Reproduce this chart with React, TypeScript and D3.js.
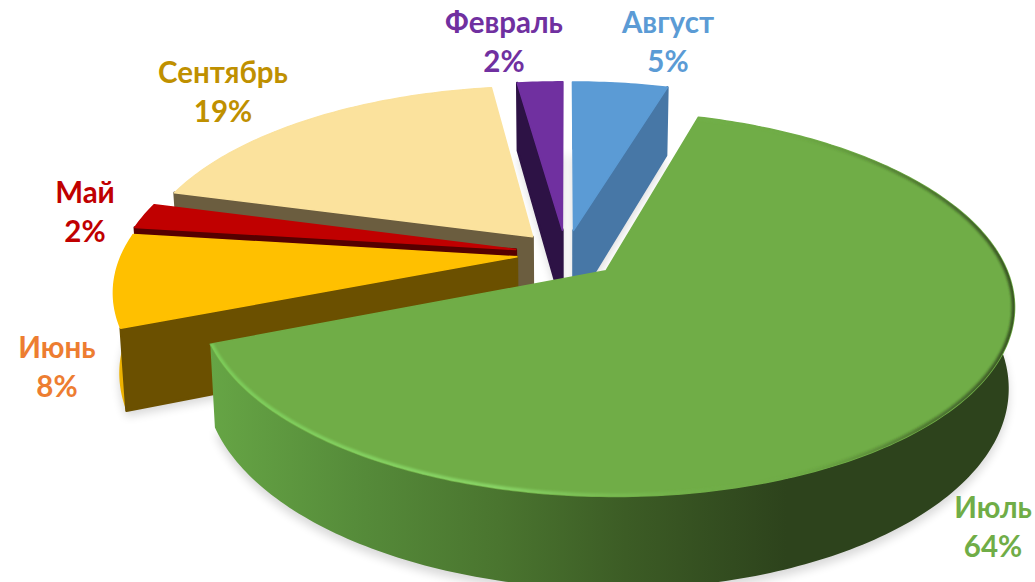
import React from "react";
import * as d3 from "d3";

const months = ["Август", "Июль", "Июнь", "Май", "Сентябрь", "Февраль"];
const shares = [4.6, 64.4, 8, 2.2, 18.6, 2.2];
const explosions = [0.135, 0.135, 0.125, 0.13, 0.13, 0.135];
const topColors = ["#5B9BD5", "#70AD47", "#FFC000", "#C00000", "#FBE29D", "#7030A0"];
const cutColors = ["#4777A6", "#3a5a25", "#6B5000", "#560000", "#6B5D3F", "#2D1245"];
const rimColors = ["#4777A6", "url(#greenRim)", "#EDB200", "#8a0000", "#8a7a50", "#2D1245"];
const labelColors = ["#5B9BD5", "#70AD47", "#ED7D31", "#C00000", "#BF9000", "#7030A0"];
const labelX = [668, 993, 57, 85, 223, 504];
const labelY = [33, 518, 358, 203, 83, 33];
const paintOrder = [4, 3, 2, 5, 0, 1];

const W = 1035, H = 582;
const CX = 566, CY = 254, RX = 395, RY = 181, K = 0.17, DEPTH = 78, SHRINK = 0.987;

type P = [number, number];
const project = (u: number, v: number, low: boolean): P => {
  const w = 1 - K * v;
  const x = (RX * u) / w, y = (RY * v) / w;
  return low ? [CX + x * SHRINK, CY + y * SHRINK + DEPTH / w] : [CX + x, CY + y];
};
const line = d3.line<P>();
const arcs = d3.pie<number>().sort(null).startAngle(0).endAngle(2 * Math.PI)(shares);

function slice(i: number) {
  const a = arcs[i];
  const mid = (a.startAngle + a.endAngle) / 2;
  const ox = explosions[i] * Math.sin(mid), oy = -explosions[i] * Math.cos(mid);
  const pt = (t: number, r: number, low: boolean) => project(ox + r * Math.sin(t), oy - r * Math.cos(t), low);
  const n = Math.max(6, Math.ceil((a.endAngle - a.startAngle) * 60));
  const ts = d3.range(n + 1).map((j) => a.startAngle + ((a.endAngle - a.startAngle) * j) / n);
  const rim = (low: boolean) => ts.map((t) => pt(t, 1, low));
  const apex = (low: boolean) => project(ox, oy, low);
  const top = line([apex(false), ...rim(false), apex(false)]) + "Z";
  const bottom = line([apex(true), ...rim(true), apex(true)]) + "Z";
  const wall = line([...rim(false), ...rim(true).reverse()]) + "Z";
  const cut = (t: number) => line([apex(false), pt(t, 1, false), pt(t, 1, true), apex(true)]) + "Z";
  const cuts: string[] = [];
  if (Math.sin(a.startAngle) < -1e-6) cuts.push(cut(a.startAngle));
  if (Math.sin(a.endAngle) > 1e-6) cuts.push(cut(a.endAngle));
  return { top, bottom, wall, cuts, edge: line(rim(false))! };
}

export default function App() {
  const parts = shares.map((_, i) => slice(i));
  return (
    <svg width={W} height={H} viewBox={`0 0 ${W} ${H}`}
      style={{ position: "absolute", left: 0, top: 0, background: "#fff" }}>
      <defs>
        <filter id="soft" x="-10%" y="-10%" width="120%" height="120%"><feGaussianBlur stdDeviation="5" /></filter>
        <filter id="fine" x="-5%" y="-5%" width="110%" height="110%"><feGaussianBlur stdDeviation="1.2" /></filter>
        <clipPath id="greenTop"><path d={parts[1].top} /></clipPath>
        <linearGradient id="greenRim" gradientUnits="userSpaceOnUse" x1="210" x2="1010" y1="0" y2="0">
          <stop offset="0" stopColor="#66a545" />
          <stop offset="0.18" stopColor="#568c3a" />
          <stop offset="0.36" stopColor="#4a752f" />
          <stop offset="0.52" stopColor="#3c5c25" />
          <stop offset="0.72" stopColor="#2d431c" />
          <stop offset="1" stopColor="#2d431c" />
        </linearGradient>
        <linearGradient id="greenEdge" gradientUnits="userSpaceOnUse" x1="210" x2="1010" y1="0" y2="0">
          <stop offset="0" stopColor="#7ccb59" />
          <stop offset="0.36" stopColor="#88d466" />
          <stop offset="0.55" stopColor="#78bb50" stopOpacity="0.6" />
          <stop offset="0.68" stopColor="#70AD47" stopOpacity="0" />
          <stop offset="0.85" stopColor="#2d431c" stopOpacity="0.35" />
          <stop offset="1" stopColor="#2d431c" stopOpacity="0.8" />
        </linearGradient>
      </defs>
      <g filter="url(#soft)" transform="translate(0,6)" opacity="0.15">
        {parts.map((p, i) => <path key={i} d={p.bottom} fill="#000" />)}
      </g>
      {paintOrder.map((i) => (
        <g key={i}>
          <path d={parts[i].wall} fill={rimColors[i]} />
          {parts[i].cuts.map((d, j) => (
            <path key={j} d={d} fill={cutColors[i]} stroke={cutColors[i]} strokeWidth={2.5} strokeLinejoin="round" />
          ))}
          <path d={parts[i].top} fill={topColors[i]} stroke={topColors[i]} strokeWidth={1.5} strokeLinejoin="round" />
          {i === 1 && (
            <g clipPath="url(#greenTop)">
              <path d={parts[i].edge} fill="none" stroke="url(#greenEdge)" strokeWidth={6} filter="url(#fine)" />
            </g>
          )}
        </g>
      ))}
      <g fontFamily="Lato, 'Noto Sans', sans-serif" fontWeight="700" fontSize={29.5} textAnchor="middle">
        {months.map((m, i) => (
          <text key={m} fill={labelColors[i]}>
            <tspan x={labelX[i]} y={labelY[i]}>{m}</tspan>
            <tspan x={labelX[i]} y={labelY[i] + 39}>{Math.round(shares[i])}%</tspan>
          </text>
        ))}
      </g>
    </svg>
  );
}
